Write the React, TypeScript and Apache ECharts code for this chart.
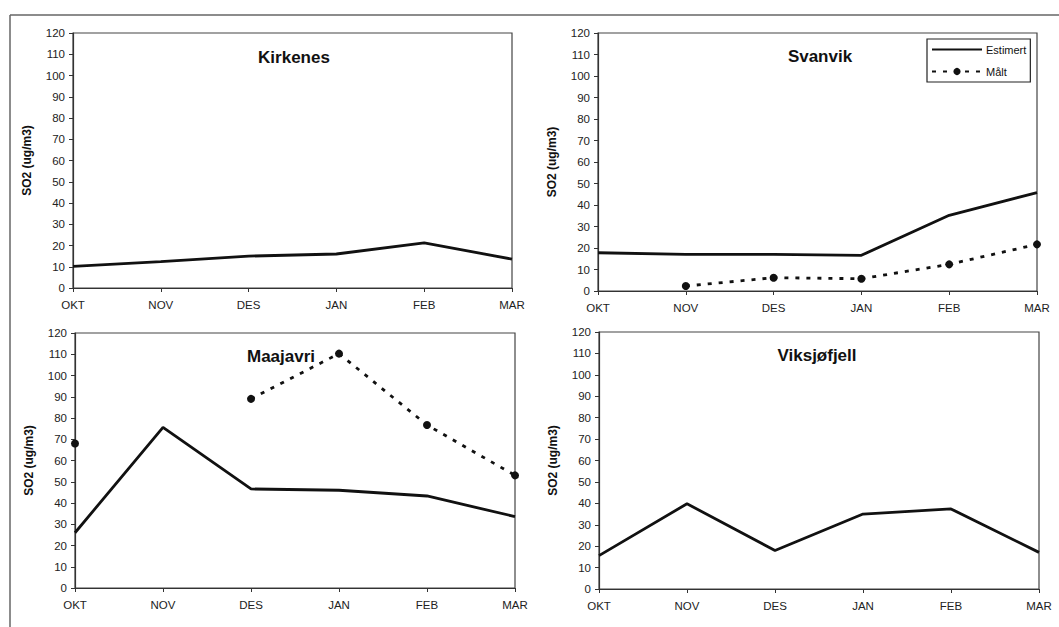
import React, { useEffect, useRef } from "react";
import * as echarts from "echarts";

const months = ["OKT", "NOV", "DES", "JAN", "FEB", "MAR"];
const yTicks = [0, 120, 10]; // min, max, interval

const kirkenesEst = [10.2, 12.4, 15, 16, 21.2, 13.6];
const svanvikEst = [17.8, 17, 17, 16.6, 35.2, 45.8];
const svanvikMalt = [null, 2.3, 6.2, 5.7, 12.4, 21.7];
const maajavriEst = [26, 75.6, 46.6, 46, 43.3, 33.6];
const maajavriMalt = [68, null, 89, 110.3, 76.7, 53];
const viksjoEst = [15.6, 39.8, 18, 35, 37.4, 17.1];

const titles = ["Kirkenes", "Svanvik", "Maajavri", "Viksjøfjell"];
const yName = "SO2 (ug/m3)";

const grids = [
  { left: 73, top: 33, width: 439, height: 255 },
  { left: 598, top: 33, width: 439, height: 258 },
  { left: 75, top: 333, width: 440, height: 255 },
  { left: 599, top: 332, width: 440, height: 257 },
];
const titlePos = [
  [294, 57],
  [820, 56],
  [281, 356],
  [817, 355],
];

const FONT = "'Liberation Sans', Arial, sans-serif";

export default function App() {
  const ref = useRef<HTMLDivElement>(null);
  useEffect(() => {
    if (!ref.current) return;
    const chart = echarts.init(ref.current, undefined, { renderer: "svg" });
    const estStyle = { color: "#111", width: 2.8, type: "solid" as const };
    const maltStyle = { color: "#111", width: 2.8, type: [4, 7] as any };
    const est = (data: any[], idx: number) => ({
      name: "Estimert",
      type: "line",
      xAxisIndex: idx,
      yAxisIndex: idx,
      data,
      symbol: "none",
      lineStyle: estStyle,
      itemStyle: { color: "#111" },
      silent: true,
    });
    const malt = (data: any[], idx: number) => ({
      name: "Målt",
      type: "line",
      xAxisIndex: idx,
      yAxisIndex: idx,
      data,
      symbol: "circle",
      symbolSize: 8,
      showSymbol: true,
      connectNulls: false,
      lineStyle: maltStyle,
      itemStyle: { color: "#111" },
      silent: true,
    });
    chart.setOption({
      animation: false,
      textStyle: { fontFamily: FONT },
      grid: grids.map((g) => ({
        ...g,
        show: true,
        borderColor: "#444",
        borderWidth: 1.2,
        backgroundColor: "transparent",
      })),
      xAxis: grids.map((_, i) => ({
        type: "category",
        gridIndex: i,
        data: months,
        boundaryGap: false,
        axisLine: { lineStyle: { color: "#333", width: 1.2 } },
        axisTick: { show: true, length: 4, inside: false, lineStyle: { color: "#333" } },
        axisLabel: { color: "#222", fontSize: 11.5, fontFamily: FONT, margin: 11 },
        splitLine: { show: false },
      })),
      yAxis: grids.map((_, i) => ({
        type: "value",
        gridIndex: i,
        min: yTicks[0],
        max: yTicks[1],
        interval: yTicks[2],
        name: yName,
        nameLocation: "middle",
        nameRotate: 90,
        nameGap: 40,
        nameTextStyle: { fontWeight: "bold", fontSize: 12, color: "#111", fontFamily: FONT },
        axisLine: { show: true, lineStyle: { color: "#333", width: 1.2 } },
        axisTick: { show: true, length: 4, lineStyle: { color: "#333" } },
        axisLabel: { color: "#222", fontSize: 11.5, fontFamily: FONT, margin: 8 },
        splitLine: { show: false },
      })),
      legend: {
        data: [
          { name: "Estimert", itemStyle: { opacity: 0 } },
          { name: "Målt" },
        ],
        orient: "vertical",
        left: 927,
        top: 39,
        itemWidth: 50,
        itemHeight: 9,
        itemGap: 11,
        itemStyle: {},
        padding: [5, 4, 5, 4],
        borderColor: "#222",
        borderWidth: 1.2,
        backgroundColor: "#fff",
        textStyle: { fontSize: 11, color: "#111", fontFamily: FONT, padding: [0, 0, 0, -1] },
        selectedMode: false,
      },
      series: [
        est(kirkenesEst, 0),
        est(svanvikEst, 1),
        malt(svanvikMalt, 1),
        est(maajavriEst, 2),
        malt(maajavriMalt, 2),
        est(viksjoEst, 3),
      ],
      graphic: [
        {
          type: "line",
          shape: { x1: 10, y1: 15, x2: 1059, y2: 15 },
          style: { stroke: "#666", lineWidth: 1.5 },
          silent: true,
          z: -1,
        },
        {
          type: "line",
          shape: { x1: 10, y1: 15, x2: 10, y2: 627 },
          style: { stroke: "#666", lineWidth: 1.5 },
          silent: true,
          z: -1,
        },
        ...titles.map((t, i) => ({
          type: "text",
          x: titlePos[i][0],
          y: titlePos[i][1],
          style: {
            text: t,
            fill: "#111",
            font: `bold 17px ${FONT}`,
            textAlign: "center",
            textVerticalAlign: "middle",
          },
          silent: true,
          z: 10,
        })),
      ],
    });
    return () => chart.dispose();
  }, []);
  return (
    <div
      ref={ref}
      style={{ position: "fixed", left: 0, top: 0, width: 1059, height: 627, background: "#fff" }}
    />
  );
}
